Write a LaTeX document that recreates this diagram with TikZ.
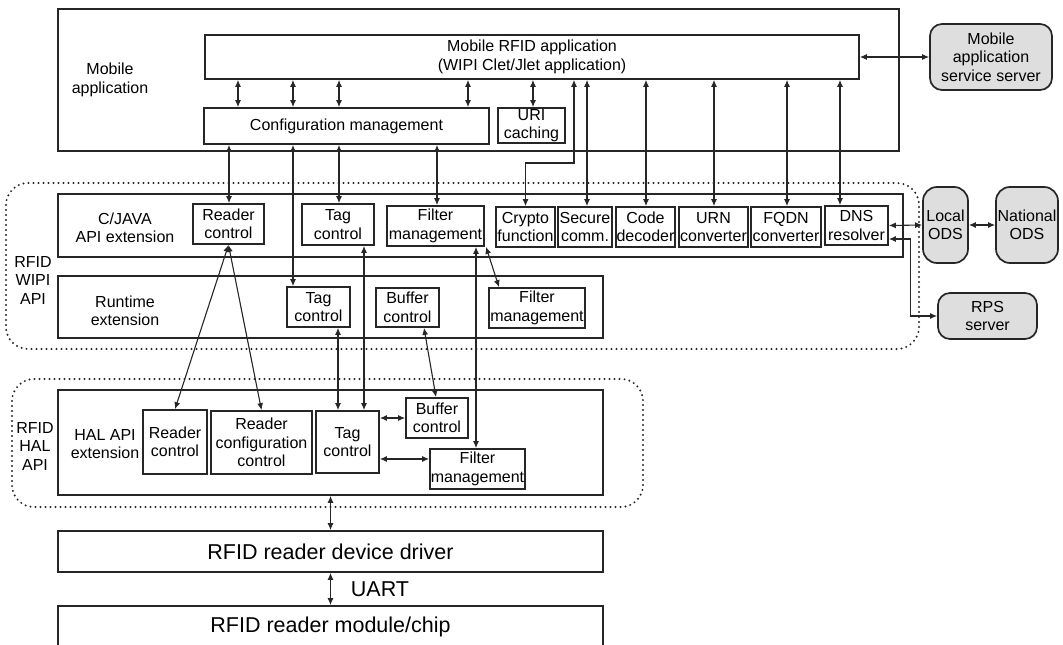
\documentclass[tikz,border=0pt]{standalone}
\usepackage{fontspec}
\setmainfont{Liberation Sans}
\usepackage{tikz}
\usetikzlibrary{arrows.meta}
\definecolor{linex}{HTML}{262626}
\definecolor{srvbg}{HTML}{DEDEDE}
\newcommand{\txtsm}{\fontsize{16pt}{18.5pt}\selectfont}
\newcommand{\txtbig}{\fontsize{21.5pt}{25pt}\selectfont}
\tikzset{
  blk/.style={draw=linex,line width=1.7pt,inner sep=0pt,align=center,font=\txtsm},
  srv/.style={blk,fill=srvbg,rounded corners=12pt},
  layer/.style={blk,font=\txtbig},
  zone/.style={draw=linex,line width=2.2pt,dash pattern=on 0pt off 5pt,line cap=round,rounded corners=22pt},
  lbl/.style={align=center,inner sep=0pt,font=\txtsm},
  dar/.style={{Latex[length=7pt,width=6pt]}-{Latex[length=7pt,width=6pt]},line width=1.1pt,linex}
}

\begin{document}
\begin{tikzpicture}[x=1pt,y=-1pt]
\useasboundingbox (0,0) rectangle (1063,645);
\clip (0,0) rectangle (1063,645);
% dotted API zones
\draw[zone] (6,183) rectangle (919,349);
\draw[zone] (12,379) rectangle (643,507);
% mobile application
\node[blk,line width=1.9pt,minimum width=841pt,minimum height=142pt] (mob) at (478.5,80) {};
\node[lbl] (moblbl) at (110,80) {Mobile\\application};
\node[blk,minimum width=654pt,minimum height=44pt] (app) at (532,57) {Mobile RFID application\\(WIPI Clet/Jlet application)};
\node[blk,minimum width=285pt,minimum height=36pt] (config) at (346.5,126) {Configuration management};
\node[blk,minimum width=67pt,minimum height=35pt] (uri) at (531.5,125.5) {URI\\caching};
\node[srv,minimum width=122pt,minimum height=66pt] (server) at (991,57) {Mobile\\application\\service server};
% RFID WIPI API
\node[lbl] (wipilbl) at (33,280) {RFID\\WIPI\\API};
\node[blk,minimum width=845pt,minimum height=63pt] (cj) at (480.5,225.5) {};
\node[lbl] (cjlbl) at (125,228) {C/JAVA\\API extension};
\node[blk,minimum width=71pt,minimum height=40pt] (cjread) at (228.5,224) {Reader\\control};
\node[blk,minimum width=72pt,minimum height=41pt] (cjtag) at (338,224.5) {Tag\\control};
\node[blk,minimum width=97pt,minimum height=40pt] (cjfilt) at (435.5,226) {Filter\\management};
\node[blk,minimum width=59pt,minimum height=40pt] (crypto) at (525.5,227) {Crypto\\function};
\node[blk,minimum width=54pt,minimum height=40pt] (secure) at (585,227) {Secure\\comm.};
\node[blk,minimum width=59pt,minimum height=40pt] (decoder) at (645.5,227) {Code\\decoder};
\node[blk,minimum width=69pt,minimum height=40pt] (urn) at (713.5,227) {URN\\converter};
\node[blk,minimum width=70pt,minimum height=40pt] (fqdn) at (786,227) {FQDN\\converter};
\node[blk,minimum width=63pt,minimum height=39pt] (dns) at (856.5,225.5) {DNS\\resolver};
\node[blk,minimum width=545pt,minimum height=62pt] (runtime) at (330.5,307) {};
\node[lbl] (rtlbl) at (125,311) {Runtime\\extension};
\node[blk,minimum width=63pt,minimum height=40pt] (rttag) at (318.5,307) {Tag\\control};
\node[blk,minimum width=63pt,minimum height=39pt] (rtbuf) at (407.5,307.5) {Buffer\\control};
\node[blk,minimum width=96pt,minimum height=40pt] (rtfilt) at (537,308) {Filter\\management};
% servers
\node[srv,rounded corners=14pt,minimum width=45pt,minimum height=76pt] (local) at (945.5,225) {Local\\ODS};
\node[srv,rounded corners=14pt,minimum width=62pt,minimum height=76pt] (national) at (1027,225) {National\\ODS};
\node[srv,minimum width=99pt,minimum height=46pt] (rps) at (987.5,316) {RPS\\server};
% RFID HAL API
\node[lbl] (hallbl) at (35,446) {RFID\\HAL\\API};
\node[blk,minimum width=545pt,minimum height=105pt] (hal) at (330.5,442.5) {};
\node[lbl] (halext) at (105,444) {HAL API\\extension};
\node[blk,minimum width=64pt,minimum height=64pt] (halread) at (175,442) {Reader\\control};
\node[blk,minimum width=101pt,minimum height=63pt] (halconf) at (261.5,442.5) {Reader\\configuration\\control};
\node[blk,minimum width=63pt,minimum height=62pt] (haltag) at (347.5,442) {Tag\\control};
\node[blk,minimum width=62pt,minimum height=40pt] (halbuf) at (437,418) {Buffer\\control};
\node[blk,minimum width=95pt,minimum height=40pt] (halfilt) at (477.5,469) {Filter\\management};
% driver and chip
\node[layer,minimum width=545pt,minimum height=41pt] (driver) at (330.5,551.5) {RFID reader device driver};
\node[layer,minimum width=545pt,minimum height=42pt] (module) at (330.5,627) {RFID reader module/chip};
\node[lbl,font=\txtbig] (uart) at (380,589) {UART};

% connectors
\foreach \xx in {238,293,339,468}
  \draw[dar] (\xx,0 |- app.south) -- (\xx,0 |- config.north);
\draw[dar] (533,0 |- app.south) -- (533,0 |- uri.north);
\draw[dar] (app.east) -- (server.west);
\draw[dar] (229,0 |- config.south) -- (229,0 |- cjread.north);
\draw[dar] (293,0 |- config.south) -- (293,0 |- rttag.north);
\draw[dar] (339,0 |- config.south) -- (339,0 |- cjtag.north);
\draw[dar] (437,0 |- config.south) -- (437,0 |- cjfilt.north);
\draw[dar] (574,0 |- app.south) -- (574,163) -| (crypto.north);
\foreach \xx/\nd in {587/secure,646/decoder,714/urn,787/fqdn,840/dns}
  \draw[dar] (\xx,0 |- app.south) -- (\xx,0 |- \nd.north);
\draw[dar] (dns.east) -- (local.west);
\draw[dar] (local.east) -- (national.west);
\draw[dar] ([yshift=-13.5pt]dns.east) -- ++(22,0) |- (rps.west);
\draw[dar] (cjread.south) -- (halread.north);
\draw[dar] (cjread.south) -- (halconf.north);
\draw[dar] (364,0 |- cjtag.south) -- (364,0 |- haltag.north);
\draw[dar] (338,0 |- rttag.south) -- (338,0 |- haltag.north);
\draw[dar] (476,0 |- cjfilt.south) -- (476,0 |- halfilt.north);
\draw[dar] (486,0 |- cjfilt.south) -- (499,0 |- rtfilt.north);
\draw[dar] (424,0 |- rtbuf.south) -- (436,0 |- halbuf.north);
\draw[dar] (haltag.east |- 0,418) -- (halbuf.west |- 0,418);
\draw[dar] (haltag.east |- 0,459) -- (halfilt.west |- 0,459);
\draw[dar] (hal.south) -- (driver.north);
\draw[dar] (driver.south) -- (module.north);
\end{tikzpicture}
\end{document}
